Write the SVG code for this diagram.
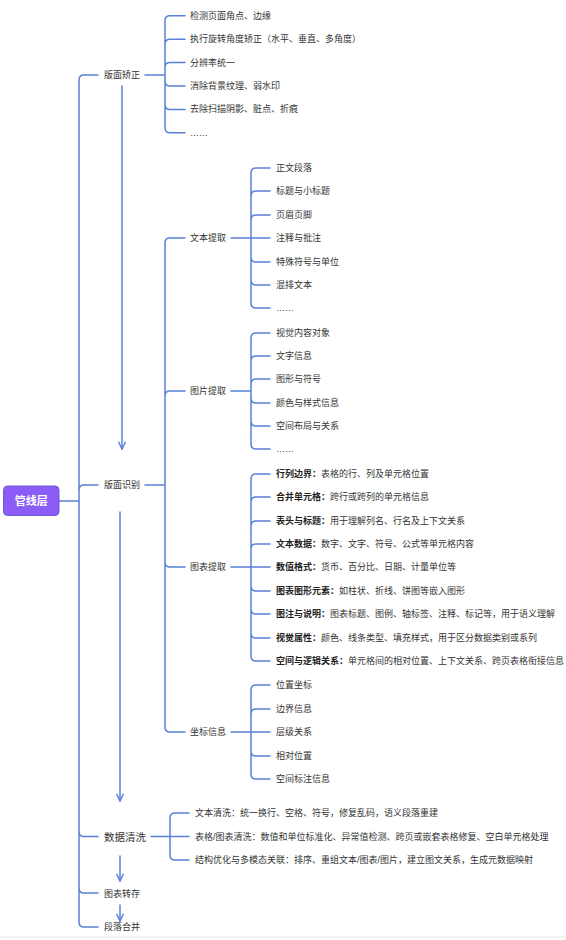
<svg xmlns="http://www.w3.org/2000/svg" width="566" height="940" viewBox="0 0 566 940">
<style>
.l{fill:none;stroke:#5a80d8;stroke-width:1.5;stroke-linecap:round}
.t{font-family:"Liberation Sans","Noto Sans CJK SC",sans-serif;font-size:9px;fill:#333;dominant-baseline:central}
.b{font-weight:bold;fill:#222}
.big{font-size:10.5px}
</style>
<defs>
<marker id="ah" viewBox="0 0 10 10" refX="9" refY="5" markerWidth="9" markerHeight="9" markerUnits="userSpaceOnUse" orient="auto">
<path d="M1,1 L9,5 L1,9" fill="none" stroke="#5a80d8" stroke-width="1.6"/>
</marker>
</defs>
<rect width="566" height="940" fill="#fff"/>
<line x1="0" y1="937" x2="566" y2="937" stroke="#e6e6e6" stroke-width="1"/>
<g id="connectors">
<!-- root bracket -->
<path class="l" d="M59 501 H79 M79 80 V922 M79 80 Q79 75 84 75 H98 M79 490 Q79 485 84 485 H98 M79 831.5 Q79 836.5 84 836.5 H98 M79 888 Q79 893 84 893 H98 M79 922 Q79 927 84 927 H98"/>
<!-- 版面矫正 -->
<path class="l" d="M145 75 H165 M165 20.8 V127.8 M165 20.8 Q165 15.8 170 15.8 H185 M165 44.2 Q165 39.2 170 39.2 H185 M165 67.6 Q165 62.6 170 62.6 H185 M165 81 Q165 86 170 86 H185 M165 104.4 Q165 109.4 170 109.4 H185 M165 127.8 Q165 132.8 170 132.8 H185"/>
<!-- 版面识别 -->
<path class="l" d="M145 485 H165 M165 243 V727 M165 243 Q165 238 170 238 H185 M165 396 Q165 391 170 391 H185 M165 562 Q165 567 170 567 H185 M165 727 Q165 732 170 732 H185"/>
<!-- 文本提取 -->
<path class="l" d="M231 238 H251 M251 173 V303 M251 173 Q251 168 256 168 H270 M251 196 Q251 191 256 191 H270 M251 220 Q251 215 256 215 H270 M251 238 H270 M251 257 Q251 262 256 262 H270 M251 280 Q251 285 256 285 H270 M251 303 Q251 308 256 308 H270"/>
<!-- 图片提取 -->
<path class="l" d="M231 391 H251 M251 338 V444 M251 338 Q251 333 256 333 H270 M251 361 Q251 356 256 356 H270 M251 384 Q251 379 256 379 H270 M251 398 Q251 403 256 403 H270 M251 421 Q251 426 256 426 H270 M251 444 Q251 449 256 449 H270"/>
<!-- 图表提取 -->
<path class="l" d="M231 567 H251 M251 479 V656 M251 479 Q251 474 256 474 H270 M251 502 Q251 497 256 497 H270 M251 526 Q251 521 256 521 H270 M251 549 Q251 544 256 544 H270 M251 567 H270 M251 586 Q251 591 256 591 H270 M251 609 Q251 614 256 614 H270 M251 633 Q251 638 256 638 H270 M251 656 Q251 661 256 661 H270"/>
<!-- 坐标信息 -->
<path class="l" d="M231 732 H251 M251 690 V774 M251 690 Q251 685 256 685 H270 M251 714 Q251 709 256 709 H270 M251 732 H270 M251 751 Q251 756 256 756 H270 M251 774 Q251 779 256 779 H270"/>
<!-- 数据清洗 -->
<path class="l" d="M151 836.5 H170 M170 818 V855 M170 818 Q170 813 175 813 H189 M170 836.5 H189 M170 855 Q170 860 175 860 H189"/>
<!-- arrows -->
<line class="l" x1="122" y1="86" x2="122" y2="449" marker-end="url(#ah)"/>
<line class="l" x1="120" y1="512" x2="120" y2="801" marker-end="url(#ah)"/>
<line class="l" x1="120" y1="856" x2="120" y2="881" marker-end="url(#ah)"/>
<line class="l" x1="120" y1="905" x2="120" y2="921" marker-end="url(#ah)"/>
</g>
<g id="root">
<rect x="3.5" y="486" width="55.5" height="29.5" rx="4" fill="#8b5cf6" stroke="#6a5bd6" stroke-width="1"/>
<text class="t b" x="31.2" y="501" text-anchor="middle" style="font-size:11px;fill:#fff">管线层</text>
</g>
<g id="n-bmjz"><text class="t" x="104" y="75">版面矫正</text></g>
<g id="n-bmjz-c">
<text class="t" x="190" y="15.8">检测页面角点、边缘</text>
<text class="t" x="190" y="39.2">执行旋转角度矫正（水平、垂直、多角度）</text>
<text class="t" x="190" y="62.6">分辨率统一</text>
<text class="t" x="190" y="86">消除背景纹理、弱水印</text>
<text class="t" x="190" y="109.4">去除扫描阴影、脏点、折痕</text>
<text class="t" x="190" y="132.8">……</text>
</g>
<g id="n-bmsb"><text class="t" x="104" y="485">版面识别</text></g>
<g id="n-wbtq"><text class="t" x="190" y="238">文本提取</text></g>
<g id="n-wbtq-c">
<text class="t" x="276" y="168">正文段落</text>
<text class="t" x="276" y="191">标题与小标题</text>
<text class="t" x="276" y="215">页眉页脚</text>
<text class="t" x="276" y="238">注释与批注</text>
<text class="t" x="276" y="262">特殊符号与单位</text>
<text class="t" x="276" y="285">混排文本</text>
<text class="t" x="276" y="308">……</text>
</g>
<g id="n-tptq"><text class="t" x="190" y="391">图片提取</text></g>
<g id="n-tptq-c">
<text class="t" x="276" y="333">视觉内容对象</text>
<text class="t" x="276" y="356">文字信息</text>
<text class="t" x="276" y="379">图形与符号</text>
<text class="t" x="276" y="403">颜色与样式信息</text>
<text class="t" x="276" y="426">空间布局与关系</text>
<text class="t" x="276" y="449">……</text>
</g>
<g id="n-tbtq"><text class="t" x="190" y="567">图表提取</text></g>
<g id="n-tbtq-c">
<text class="t" x="276" y="474"><tspan class="b">行列边界：</tspan>表格的行、列及单元格位置</text>
<text class="t" x="276" y="497"><tspan class="b">合并单元格：</tspan>跨行或跨列的单元格信息</text>
<text class="t" x="276" y="521"><tspan class="b">表头与标题：</tspan>用于理解列名、行名及上下文关系</text>
<text class="t" x="276" y="544"><tspan class="b">文本数据：</tspan>数字、文字、符号、公式等单元格内容</text>
<text class="t" x="276" y="567"><tspan class="b">数值格式：</tspan>货币、百分比、日期、计量单位等</text>
<text class="t" x="276" y="591"><tspan class="b">图表图形元素：</tspan>如柱状、折线、饼图等嵌入图形</text>
<text class="t" x="276" y="614"><tspan class="b">图注与说明：</tspan>图表标题、图例、轴标签、注释、标记等，用于语义理解</text>
<text class="t" x="276" y="638"><tspan class="b">视觉属性：</tspan>颜色、线条类型、填充样式，用于区分数据类别或系列</text>
<text class="t" x="276" y="661"><tspan class="b">空间与逻辑关系：</tspan>单元格间的相对位置、上下文关系、跨页表格衔接信息</text>
</g>
<g id="n-zbxx"><text class="t" x="190" y="732">坐标信息</text></g>
<g id="n-zbxx-c">
<text class="t" x="276" y="685">位置坐标</text>
<text class="t" x="276" y="709">边界信息</text>
<text class="t" x="276" y="732">层级关系</text>
<text class="t" x="276" y="756">相对位置</text>
<text class="t" x="276" y="779">空间标注信息</text>
</g>
<g id="n-sjqx"><text class="t big" x="104" y="836.5">数据清洗</text></g>
<g id="n-sjqx-c">
<text class="t" x="195" y="813">文本清洗：统一换行、空格、符号，修复乱码，语义段落重建</text>
<text class="t" x="195" y="836.5">表格/图表清洗：数值和单位标准化、异常值检测、跨页或嵌套表格修复、空白单元格处理</text>
<text class="t" x="195" y="860">结构优化与多模态关联：排序、重组文本/图表/图片，建立图文关系，生成元数据映射</text>
</g>
<g id="n-tbzc"><text class="t" x="104" y="894">图表转存</text></g>
<g id="n-dlhb"><text class="t" x="104" y="927">段落合并</text></g>
</svg>
